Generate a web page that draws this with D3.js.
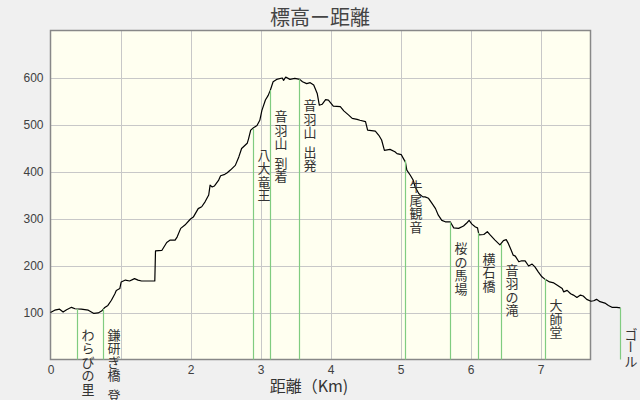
<!DOCTYPE html>
<html>
<head>
<meta charset="utf-8">
<script src="https://cdn.jsdelivr.net/npm/d3@7"></script>
<style>
  html, body { margin: 0; padding: 0; background: #f0f0f0; }
  svg { display: block; }
</style>
</head>
<body>
<svg id="chart" width="640" height="400"></svg>
<script>
// ---- data ----
const distKm = [0.00,0.06,0.13,0.18,0.23,0.30,0.35,0.44,0.54,0.62,0.68,0.73,0.77,0.82,0.87,0.92,0.94,0.99,1.01,1.07,1.13,1.20,1.25,1.30,1.49,1.50,1.59,1.66,1.71,1.78,1.81,1.86,1.92,2.00,2.04,2.11,2.16,2.21,2.26,2.28,2.31,2.34,2.40,2.43,2.49,2.52,2.57,2.64,2.69,2.73,2.81,2.83,2.86,2.90,2.95,2.99,3.02,3.07,3.11,3.14,3.18,3.23,3.31,3.33,3.36,3.42,3.49,3.56,3.60,3.66,3.71,3.76,3.81,3.84,3.88,3.93,3.97,4.04,4.14,4.19,4.26,4.31,4.38,4.42,4.50,4.53,4.64,4.69,4.73,4.77,4.85,4.92,4.95,5.01,5.04,5.07,5.09,5.14,5.18,5.21,5.26,5.32,5.35,5.40,5.45,5.50,5.54,5.59,5.64,5.71,5.76,5.83,5.90,5.95,5.98,6.02,6.07,6.10,6.12,6.19,6.24,6.28,6.35,6.42,6.47,6.51,6.54,6.58,6.61,6.64,6.69,6.73,6.78,6.83,6.88,6.92,6.97,7.02,7.07,7.13,7.19,7.24,7.31,7.33,7.38,7.43,7.47,7.52,7.57,7.61,7.66,7.72,7.76,7.80,7.85,7.92,7.97,8.02,8.09,8.14];
const elevM  = [100,105,107,101,106,111,108,107,105,98,99,103,110,115,126,140,147,151,165,169,167,172,169,167,167,231,232,249,254,254,261,279,286,299,303,321,325,336,350,371,367,369,381,391,394,397,403,413,431,449,460,470,488,493,498,509,530,552,562,573,591,596,599,594,601,596,598,596,591,587,589,584,566,541,543,553,552,539,538,529,520,513,511,509,506,488,486,477,467,445,447,442,438,436,428,420,403,392,382,367,353,346,346,343,332,321,307,296,293,293,280,279,284,291,296,288,282,280,265,266,272,265,254,244,253,255,247,233,222,220,208,210,210,199,203,197,186,176,170,165,163,158,151,144,147,140,137,132,137,135,128,124,125,128,123,120,115,111,111,110];

const markerNames = ["わらびの里","鎌研ぎ橋 登山口","八大竜王","音羽山 到着","音羽山 出発","牛尾観音","桜の馬場","横石橋","音羽の滝","大師堂","ゴール"];
const markerKm    = [0.377,0.757,2.886,3.139,3.557,5.057,5.714,6.114,6.43,7.06,8.14];

const xGrid  = [1,2,3,4,5,6,7];
const xTicks = [0,2,3,4,5,6,7];   // "1" is hidden under a marker label in the reference
const yTicks = [100,200,300,400,500,600];
const yGrid  = [100,200,300,400,500,600];

const titleText = "標高ー距離";
const xTitleText = "距離（Km)";

// ---- drawing ----
const svg = d3.select("#chart");
const L = 50.5, R = 590.5, T = 30.5, B = 359.5;
const x = d3.scaleLinear().domain([0, 7.714]).range([L, R]);
const y = d3.scaleLinear().domain([0, 700]).range([B, T]);

svg.append("rect").attr("x",0).attr("y",0).attr("width",640).attr("height",400).attr("fill","#f0f0f0");
svg.append("rect").attr("x",L).attr("y",T).attr("width",R-L).attr("height",B-T).attr("fill","#fffff0");

// grid
svg.append("g").selectAll("line").data(xGrid).join("line")
  .attr("x1",d=>Math.round(x(d))+0.5).attr("x2",d=>Math.round(x(d))+0.5)
  .attr("y1",T).attr("y2",B).attr("stroke","#c8c8c8").attr("stroke-width",1);
svg.append("g").selectAll("line").data(yGrid).join("line")
  .attr("y1",d=>Math.round(y(d))+0.5).attr("y2",d=>Math.round(y(d))+0.5)
  .attr("x1",L).attr("x2",R).attr("stroke","#c8c8c8").attr("stroke-width",1);

// frame
svg.append("rect").attr("x",L).attr("y",T).attr("width",R-L).attr("height",B-T)
  .attr("fill","none").attr("stroke","#888").attr("stroke-width",1.5);

// axes labels
const xAxis = d3.axisBottom(x).tickValues(xTicks).tickSize(0).tickPadding(6).tickFormat(d3.format("d"));
const gx = svg.append("g").attr("transform",`translate(0,${B})`).call(xAxis);
gx.select(".domain").remove();
gx.selectAll("text").attr("font-family","Liberation Sans, Arial, sans-serif").attr("font-size",12).attr("fill","#404040");

const yAxis = d3.axisLeft(y).tickValues(yTicks).tickSize(0).tickPadding(7).tickFormat(d3.format("d"));
const gy = svg.append("g").attr("transform",`translate(${L},0)`).call(yAxis);
gy.select(".domain").remove();
gy.selectAll("text").attr("font-family","Liberation Sans, Arial, sans-serif").attr("font-size",12).attr("fill","#404040");

// profile line
const pts = distKm.map((d,i)=>[d, elevM[i]]);
const line = d3.line().x(d=>x(d[0])).y(d=>y(d[1]));
svg.append("path").datum(pts).attr("d",line).attr("fill","none")
  .attr("stroke","#000").attr("stroke-width",1.2).attr("stroke-linejoin","round");

// markers
const bis = d3.bisector(d=>d[0]).left;
function elevAt(k){
  const i = Math.min(Math.max(bis(pts,k),1),pts.length-1);
  const a = pts[i-1], b = pts[i];
  const t = (k-a[0])/(b[0]-a[0]||1);
  return a[1] + (b[1]-a[1])*Math.max(0,Math.min(1,t));
}
const fontJP = "Noto Sans CJK JP, sans-serif";
markerNames.forEach((name,i)=>{
  const k = markerKm[i];
  const xp = Math.round(x(k))+0.5;
  const yTop = y(elevAt(k));
  svg.append("line").attr("x1",xp).attr("x2",xp).attr("y1",yTop).attr("y2",B)
    .attr("stroke","#80cc80").attr("stroke-width",1.2);
  let cy = yTop + 19 + 6.5;
  const g = svg.append("g");
  for (const ch of Array.from(name)) {
    if (ch === " ") { cy += 6; continue; }
    const t = g.append("text").attr("x",xp+10.5).attr("y",cy)
      .attr("text-anchor","middle").attr("dominant-baseline","central")
      .attr("font-family",fontJP).attr("font-size",13).attr("fill","#333").text(ch);
    if (ch === "ー") t.attr("transform",`rotate(90,${xp+10.5},${cy})`);
    cy += 13.5;
  }
});

// titles
svg.append("text").attr("x",320).attr("y",16).attr("text-anchor","middle").attr("dominant-baseline","central")
  .attr("font-family",fontJP).attr("font-size",20).attr("fill","#444").text(titleText);
svg.append("text").attr("x",309).attr("y",385).attr("text-anchor","middle").attr("dominant-baseline","central")
  .attr("font-family",fontJP).attr("font-size",16).attr("fill","#333").text(xTitleText);
</script>
</body>
</html>
